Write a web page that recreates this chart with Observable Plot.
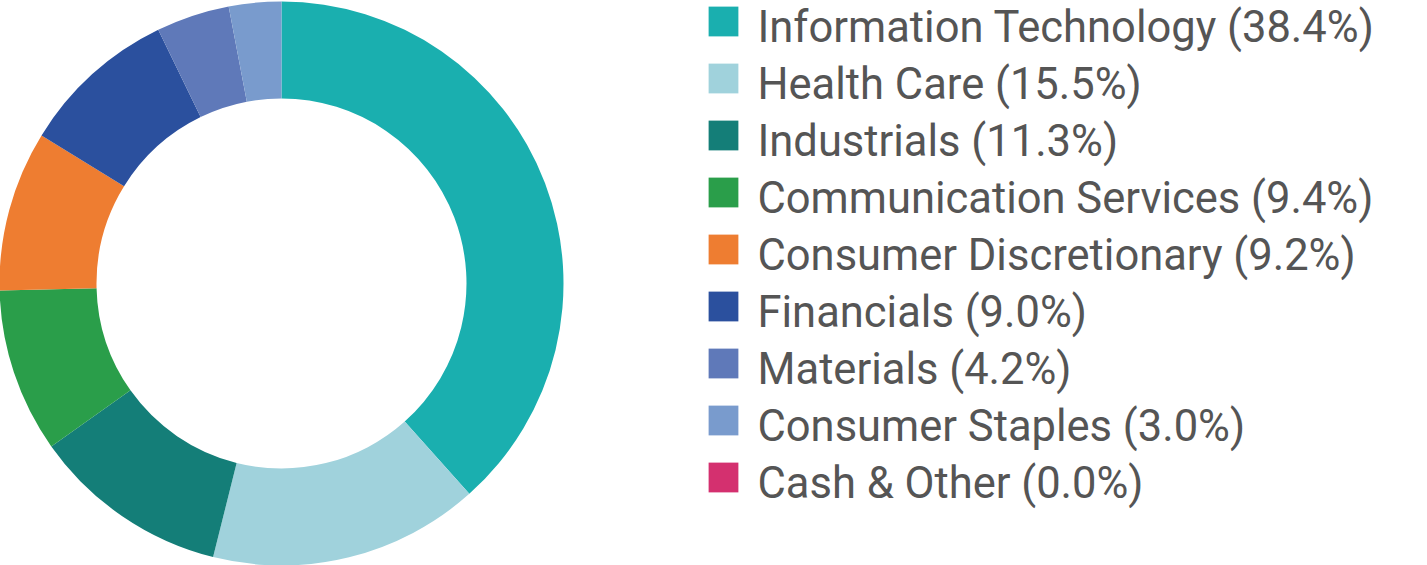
<!DOCTYPE html>
<html>
<head>
<meta charset="utf-8">
<script src="https://cdn.jsdelivr.net/npm/d3@7"></script>
<script src="https://cdn.jsdelivr.net/npm/@observablehq/plot@0.6"></script>
<style>
  html, body { margin: 0; padding: 0; background: #fff; }
  #chart svg { display: block; }
</style>
</head>
<body>
<div id="chart"></div>
<script>
const sectors = ["Information Technology", "Health Care", "Industrials", "Communication Services", "Consumer Discretionary", "Financials", "Materials", "Consumer Staples", "Cash & Other"];
const weights = [38.4, 15.5, 11.3, 9.4, 9.2, 9.0, 4.2, 3.0, 0.0];
const colors = ["#1aafaf", "#a0d2dc", "#147e78", "#2a9e4a", "#ee7d31", "#2b509e", "#5f79b9", "#799bcd", "#d4306f"];

const data = sectors.map((s, i) => ({sector: s, weight: weights[i], label: `${s} (${weights[i].toFixed(1)}%)`}));

const W = 1427, H = 565;
const cx = 281.5, cy = 283.5, outerR = 282, innerR = 185;

function donut(index, scales, values, dimensions, context) {
  const color = scales.color || d3.scaleOrdinal(sectors, colors);
  const pie = d3.pie().sort(null).value(d => d.weight)(data);
  const arc = d3.arc().innerRadius(innerR).outerRadius(outerR);
  const g = d3.create("svg:g").attr("transform", `translate(${cx},${cy})`);
  g.selectAll("path")
    .data(pie.filter(p => p.data.weight > 0))
    .join("path")
    .attr("d", arc)
    .attr("fill", p => color(p.data.sector));
  return g.node();
}

const chart = Plot.plot({
  width: W,
  height: H,
  margin: 0,
  style: {fontFamily: "Roboto, sans-serif", background: "#fff"},
  x: {type: "identity", axis: null},
  y: {type: "point", domain: sectors, range: [20.5, 478], padding: 0, axis: null},
  color: {domain: sectors, range: colors},
  marks: [
    donut,
    Plot.dot(data, {x: () => 723, y: "sector", fill: "sector", symbol: "square", r: 16.8, stroke: null}),
    Plot.text(data, {x: () => 757, y: "sector", text: "label", textAnchor: "start", fontSize: 43.5, fill: "#555555", dy: 7})
  ]
});
document.getElementById("chart").append(chart);
</script>
</body>
</html>
